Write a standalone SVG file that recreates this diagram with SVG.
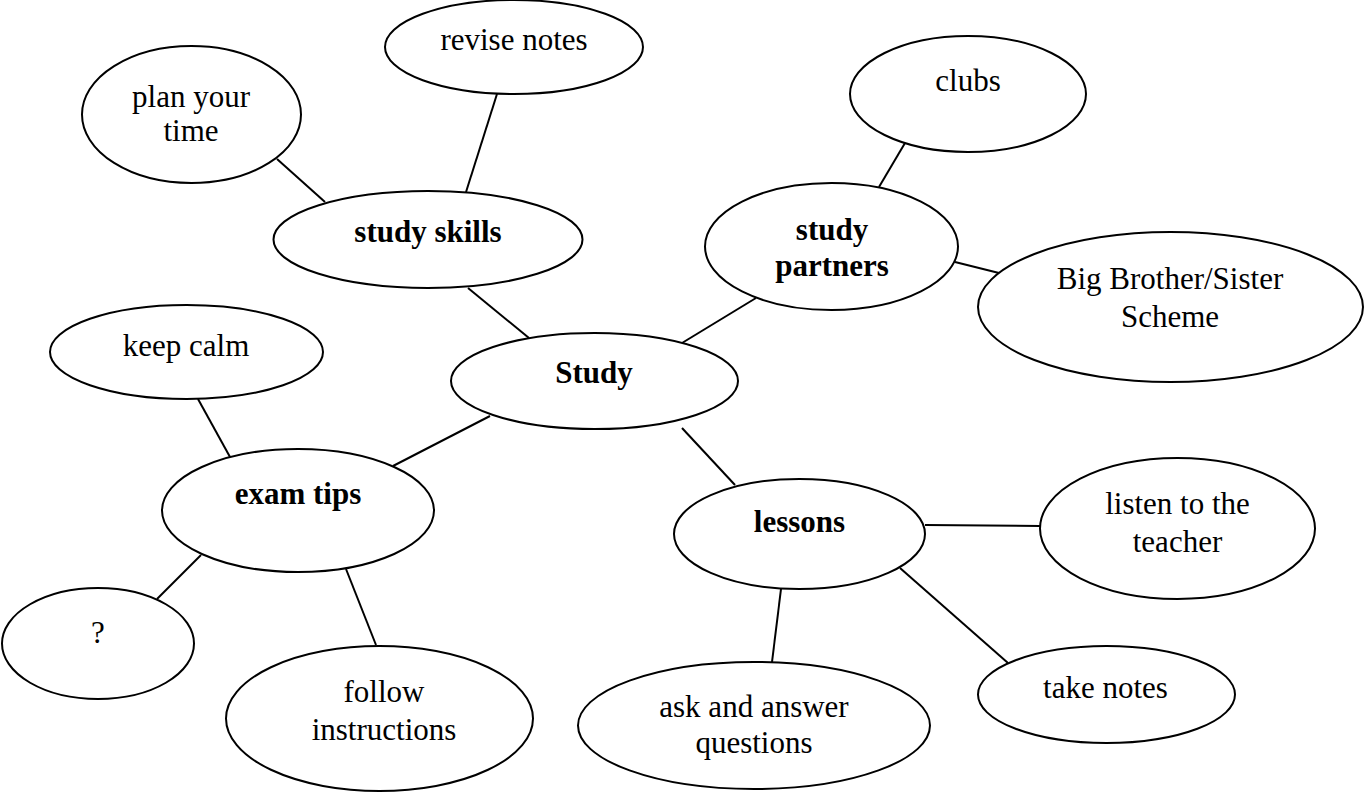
<svg xmlns="http://www.w3.org/2000/svg" width="1365" height="792" viewBox="0 0 1365 792">
<style>
ellipse{fill:#fff;stroke:#000;stroke-width:2}
line{stroke:#000;stroke-width:2}
text{font-family:'Liberation Serif','Times New Roman',Times,'DejaVu Serif',serif;font-size:31px;text-anchor:middle;fill:#000}
.b{font-weight:bold}
</style>
<rect width="1365" height="792" fill="#fff"/>
<g id="connectors">
<line x1="497" y1="94" x2="466" y2="192"/>
<line x1="277" y1="159" x2="325" y2="202"/>
<line x1="468" y1="288" x2="529" y2="338"/>
<line x1="682" y1="343" x2="756" y2="298"/>
<line x1="905" y1="143" x2="879" y2="187"/>
<line x1="955" y1="262" x2="999" y2="273"/>
<line x1="198" y1="399" x2="230" y2="457"/>
<line x1="393" y1="466" x2="490" y2="416"/>
<line x1="682" y1="428" x2="735" y2="485"/>
<line x1="201" y1="555" x2="157" y2="599"/>
<line x1="346" y1="569" x2="376" y2="645"/>
<line x1="925" y1="525" x2="1040" y2="526"/>
<line x1="781" y1="589" x2="772" y2="662"/>
<line x1="900" y1="568" x2="1008" y2="663"/>
</g>
<g font-family="'Liberation Serif','Times New Roman',Times,serif">
<g id="revise-notes"><ellipse cx="514" cy="47" rx="129" ry="47"/><text x="514" y="50">revise notes</text></g>
<g id="plan-your-time"><ellipse cx="191.5" cy="114.5" rx="109.5" ry="68.5"/><text x="191" y="107">plan your</text><text x="191" y="141">time</text></g>
<g id="study-skills"><ellipse cx="428" cy="239.5" rx="154.5" ry="48.5"/><text class="b" x="428" y="242">study skills</text></g>
<g id="study"><ellipse cx="594.5" cy="381" rx="143.5" ry="48"/><text class="b" x="594" y="383">Study</text></g>
<g id="study-partners"><ellipse cx="831.5" cy="246.5" rx="126.5" ry="63.5"/><text class="b" x="832" y="240">study</text><text class="b" x="832" y="276">partners</text></g>
<g id="clubs"><ellipse cx="968" cy="94" rx="118" ry="58"/><text x="968" y="91">clubs</text></g>
<g id="big-brother"><ellipse cx="1170.5" cy="307" rx="192.5" ry="75"/><text x="1170" y="289">Big Brother/Sister</text><text x="1170" y="327">Scheme</text></g>
<g id="keep-calm"><ellipse cx="186.5" cy="352" rx="136.5" ry="47"/><text x="186" y="356">keep calm</text></g>
<g id="exam-tips"><ellipse cx="298" cy="510.5" rx="136" ry="61.5"/><text class="b" x="298" y="504">exam tips</text></g>
<g id="question"><ellipse cx="98" cy="643.5" rx="96" ry="55.5"/><text x="98" y="643">?</text></g>
<g id="follow-instructions"><ellipse cx="379.5" cy="718.5" rx="153.5" ry="72.5"/><text x="384" y="702">follow</text><text x="384" y="740">instructions</text></g>
<g id="lessons"><ellipse cx="799.5" cy="534" rx="125.5" ry="55"/><text class="b" x="799.5" y="532">lessons</text></g>
<g id="listen"><ellipse cx="1177.5" cy="528.5" rx="137.5" ry="70.5"/><text x="1177.5" y="514">listen to the</text><text x="1177.5" y="552">teacher</text></g>
<g id="take-notes"><ellipse cx="1106.5" cy="694.5" rx="128.5" ry="48.5"/><text x="1105.5" y="698">take notes</text></g>
<g id="ask-answer"><ellipse cx="754" cy="725.5" rx="176" ry="63.5"/><text x="754" y="717">ask and answer</text><text x="754" y="753">questions</text></g>
</g>
</svg>
